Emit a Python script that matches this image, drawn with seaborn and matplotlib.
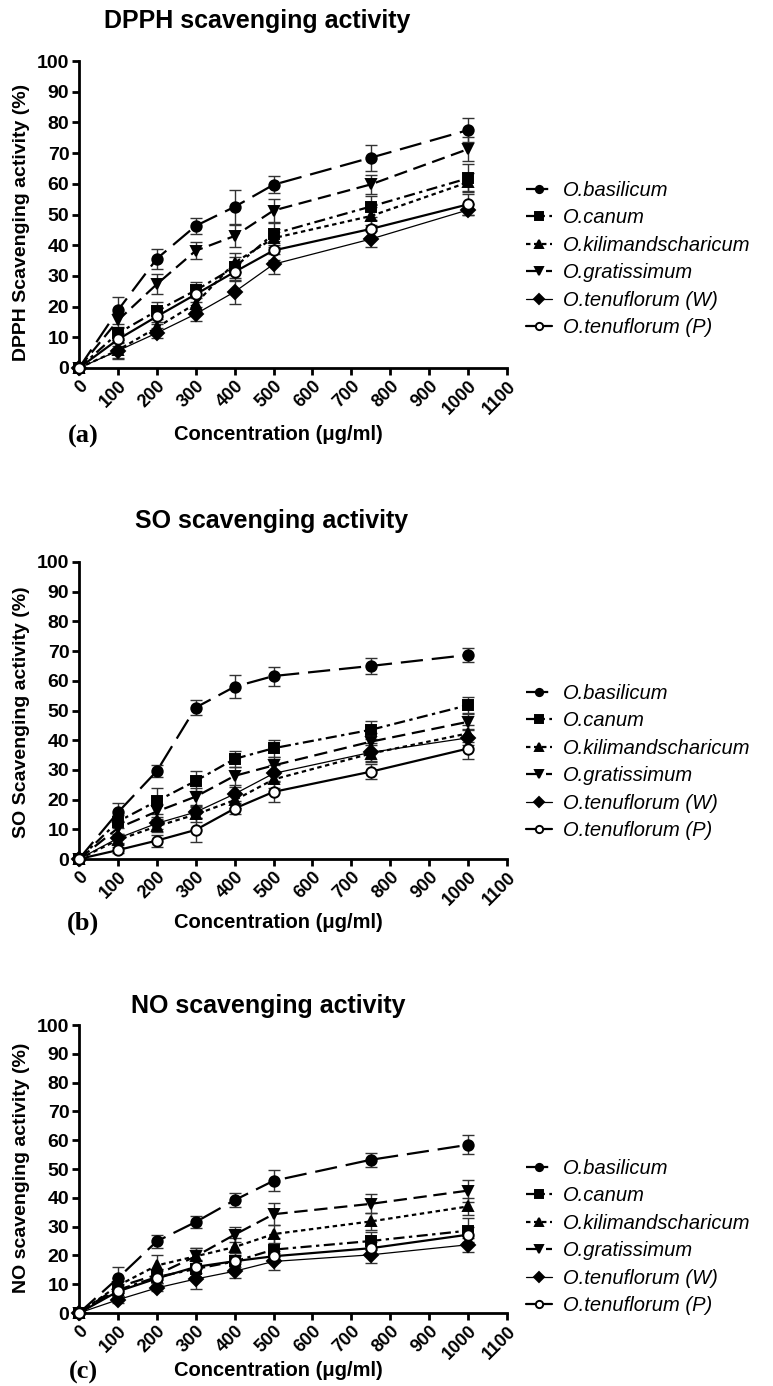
import pandas as pd
import seaborn as sns
import matplotlib.pyplot as plt

# concentrations (ug/ml)
conc = [0, 100, 200, 300, 400, 500, 750, 1000]
species = ['O.basilicum', 'O.canum', 'O.kilimandscharicum', 'O.gratissimum',
           'O.tenuflorum (W)', 'O.tenuflorum (P)']

# DPPH scavenging activity (%)
dpph_basilicum = [0, 18.8, 35.6, 46.3, 52.5, 59.7, 68.5, 77.5]
dpph_canum = [0, 11.3, 18.6, 25.3, 32.8, 43.7, 52.6, 61.8]
dpph_kilimand = [0, 5.8, 13.2, 21.0, 34.3, 42.3, 49.5, 60.5]
dpph_gratissimum = [0, 15.5, 27.3, 38.2, 43.0, 51.3, 59.8, 71.3]
dpph_tenu_w = [0, 5.6, 11.4, 17.6, 24.8, 33.8, 42.0, 51.5]
dpph_tenu_p = [0, 9.3, 16.8, 24.0, 31.3, 38.3, 45.3, 53.3]
dpph_err_basilicum = [0, 4.4, 3.3, 2.7, 5.5, 2.8, 4.2, 3.9]
dpph_err_canum = [0, 2.2, 2.8, 2.6, 3.5, 3.5, 3.3, 4.5]
dpph_err_kilimand = [0, 2.8, 1.8, 2.5, 3.0, 3.0, 2.8, 3.0]
dpph_err_gratissimum = [0, 2.5, 3.2, 2.8, 3.6, 3.6, 3.2, 4.0]
dpph_err_tenu_w = [0, 2.5, 1.6, 2.2, 3.8, 3.2, 2.5, 1.8]
dpph_err_tenu_p = [0, 2.0, 2.6, 2.6, 3.0, 3.0, 3.0, 3.5]

# SO scavenging activity (%)
so_basilicum = [0, 15.7, 29.6, 51.0, 58.0, 61.6, 65.0, 68.7]
so_canum = [0, 12.6, 19.5, 26.3, 33.7, 37.3, 43.5, 51.8]
so_kilimand = [0, 6.4, 11.0, 15.0, 19.8, 26.8, 35.5, 42.3]
so_gratissimum = [0, 10.4, 16.0, 21.0, 28.0, 31.5, 39.5, 46.2]
so_tenu_w = [0, 7.0, 12.0, 15.8, 21.9, 28.8, 35.9, 40.8]
so_tenu_p = [0, 3.0, 6.2, 9.8, 17.0, 22.6, 29.4, 37.2]
so_err_basilicum = [0, 3.0, 2.0, 2.5, 3.8, 3.2, 2.8, 2.3]
so_err_canum = [0, 2.2, 4.3, 3.3, 2.6, 2.8, 3.0, 2.8]
so_err_kilimand = [0, 1.5, 2.0, 2.5, 2.5, 2.8, 3.0, 2.8]
so_err_gratissimum = [0, 2.0, 2.5, 2.8, 3.0, 3.0, 3.0, 2.5]
so_err_tenu_w = [0, 1.5, 2.0, 2.0, 2.5, 2.8, 3.0, 2.5]
so_err_tenu_p = [0, 1.0, 2.0, 4.0, 2.0, 3.5, 2.5, 3.5]

# NO scavenging activity (%)
no_basilicum = [0, 12.1, 24.9, 31.6, 39.2, 45.9, 53.2, 58.4]
no_canum = [0, 8.0, 12.5, 15.3, 17.9, 22.0, 25.0, 28.6]
no_kilimand = [0, 9.5, 16.5, 19.7, 22.9, 27.4, 31.8, 37.0]
no_gratissimum = [0, 9.0, 13.3, 19.7, 27.2, 34.3, 37.9, 42.5]
no_tenu_w = [0, 4.6, 8.7, 11.8, 14.5, 17.9, 20.2, 23.7]
no_tenu_p = [0, 7.5, 12.0, 16.0, 18.0, 19.7, 22.5, 27.2]
no_err_basilicum = [0, 3.7, 2.3, 2.0, 2.5, 3.7, 2.5, 3.3]
no_err_canum = [0, 2.0, 2.0, 3.0, 3.0, 4.0, 3.0, 4.5]
no_err_kilimand = [0, 2.5, 3.8, 3.0, 3.0, 3.0, 3.0, 3.0]
no_err_gratissimum = [0, 2.0, 2.0, 3.0, 2.7, 3.8, 3.3, 3.8]
no_err_tenu_w = [0, 1.2, 1.0, 3.5, 2.5, 3.0, 3.0, 2.5]
no_err_tenu_p = [0, 1.5, 1.5, 2.0, 2.0, 2.0, 2.0, 2.5]

panels = [
    dict(title='DPPH scavenging activity', ylabel='DPPH Scavenging activity (%)', tag='(a)',
         means=[dpph_basilicum, dpph_canum, dpph_kilimand, dpph_gratissimum, dpph_tenu_w, dpph_tenu_p],
         errs=[dpph_err_basilicum, dpph_err_canum, dpph_err_kilimand, dpph_err_gratissimum,
               dpph_err_tenu_w, dpph_err_tenu_p]),
    dict(title='SO scavenging activity', ylabel='SO Scavenging activity (%)', tag='(b)',
         means=[so_basilicum, so_canum, so_kilimand, so_gratissimum, so_tenu_w, so_tenu_p],
         errs=[so_err_basilicum, so_err_canum, so_err_kilimand, so_err_gratissimum,
               so_err_tenu_w, so_err_tenu_p]),
    dict(title='NO scavenging activity', ylabel='NO scavenging activity (%)', tag='(c)',
         means=[no_basilicum, no_canum, no_kilimand, no_gratissimum, no_tenu_w, no_tenu_p],
         errs=[no_err_basilicum, no_err_canum, no_err_kilimand, no_err_gratissimum,
               no_err_tenu_w, no_err_tenu_p]),
]

# line / marker style per species
styles = {
    'O.basilicum': dict(marker='o', ls=(0, (10, 4)), lw=1.6, mfc='black'),
    'O.canum': dict(marker='s', ls=(0, (5, 2, 1.5, 2)), lw=1.6, mfc='black'),
    'O.kilimandscharicum': dict(marker='^', ls=(0, (2, 1.6)), lw=1.6, mfc='black'),
    'O.gratissimum': dict(marker='v', ls=(0, (6, 3)), lw=1.6, mfc='black'),
    'O.tenuflorum (W)': dict(marker='D', ls='-', lw=0.9, mfc='black'),
    'O.tenuflorum (P)': dict(marker='o', ls='-', lw=1.6, mfc='white'),
}

sns.set_style('ticks')
plt.rcParams['font.family'] = ['Liberation Sans', 'DejaVu Sans']
plt.rcParams['text.color'] = 'black'
plt.rcParams['axes.edgecolor'] = 'black'

W, H = 773, 1386
fig = plt.figure(figsize=(W / 100, H / 100), dpi=100)

# axes boxes in pixels: (top, bottom)
boxes = [(61, 368), (562, 859), (1025, 1313)]
title_pos = [(257, 21), (272, 521), (268, 1006)]
ylab_y = [222, 712, 1168]
bottom_y = [435, 922, 1371]
legend_y = [0.355, 0.327, 0.264]
ax_left, ax_right = 79, 507

for p, (top, bot), (tx, ty), yy, by, ly in zip(panels, boxes, title_pos, ylab_y, bottom_y, legend_y):
    ax = fig.add_axes([ax_left / W, 1 - bot / H, (ax_right - ax_left) / W, (bot - top) / H])
    for name, m, e in zip(species, p['means'], p['errs']):
        st = styles[name]
        df = pd.DataFrame({'conc': conc, 'val': m})
        ax.errorbar(conc, m, yerr=e, fmt='none', ecolor='#333333', elinewidth=1.0,
                    capsize=4, capthick=1.0, clip_on=False, zorder=2)
        sns.lineplot(data=df, x='conc', y='val', ax=ax, color='black', errorbar=None,
                     marker=st['marker'], linestyle=st['ls'], linewidth=st['lw'],
                     markersize=7.5, markerfacecolor=st['mfc'], markeredgecolor='black',
                     markeredgewidth=1.4, label=name, clip_on=False, zorder=3)

    ax.set_xlim(0, 1100)
    ax.set_ylim(0, 100)
    ax.set_xticks(range(0, 1101, 100))
    ax.set_yticks(range(0, 101, 10))
    ax.set_xticklabels([str(v) for v in range(0, 1101, 100)], rotation=45, ha='right',
                       rotation_mode='anchor', fontweight='bold', fontsize=13)
    ax.set_yticklabels([str(v) for v in range(0, 101, 10)], fontweight='bold', fontsize=14)
    ax.set_xlabel('')
    ax.set_ylabel('')
    sns.despine(ax=ax)
    for s in ['left', 'bottom']:
        ax.spines[s].set_linewidth(2)
    ax.tick_params(axis='both', direction='out', length=5, width=2, pad=2, colors='black')

    leg = ax.legend(loc='center left', bbox_to_anchor=(1.025, ly), frameon=False,
                    fontsize=14.5, handlelength=1.3, handletextpad=0.55,
                    labelspacing=0.42, markerscale=0.7, borderaxespad=0)
    for t in leg.get_texts():
        t.set_fontstyle('italic')
        t.set_color('black')

    fig.text(tx / W, 1 - ty / H, p['title'], ha='center', va='center',
             fontsize=18, fontweight='bold')
    fig.text(22 / W, 1 - yy / H, p['ylabel'], ha='center', va='center', rotation=90,
             fontsize=14, fontweight='bold')
    fig.text(278 / W, 1 - by / H, 'Concentration (\u03bcg/ml)', ha='center', va='center',
             fontsize=14.5, fontweight='bold')
    fig.text(83 / W, 1 - (by + 1) / H, p['tag'], ha='center', va='center',
             fontsize=19, fontweight='bold', family=['Liberation Serif', 'DejaVu Serif'])

fig.savefig('out.png', dpi=100)
